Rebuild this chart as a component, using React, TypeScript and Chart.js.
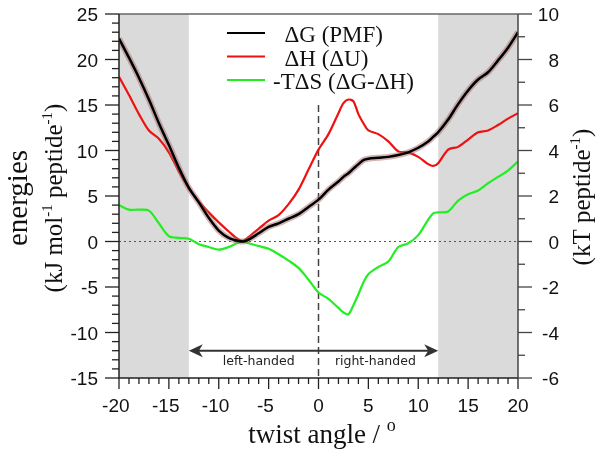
import React, { useEffect, useRef } from "react";
import { Chart, registerables } from "chart.js";

Chart.register(...registerables);

// twist angle (degrees)
const twistAngle = [-20, -19, -18, -17, -16, -15, -14, -13, -12, -11, -10, -9, -8, -7.5, -7, -6, -5, -4, -3, -2, -1, 0, 1, 2, 2.5, 3, 3.5, 4, 4.5, 5, 6, 7, 8, 9, 10, 11, 11.5, 12, 13, 14, 15, 16, 17, 18, 19, 20];
// ΔG (PMF), kJ/mol/peptide
const deltaG = [22.3, 20.2, 18.0, 15.6, 13.0, 10.6, 8.1, 5.9, 4.3, 2.6, 1.2, 0.4, 0.05, 0.0, 0.2, 0.9, 1.6, 2.0, 2.5, 3.0, 3.8, 4.6, 5.7, 6.6, 7.1, 7.5, 8.0, 8.5, 8.95, 9.1, 9.2, 9.3, 9.5, 9.8, 10.3, 11.0, 11.5, 12.0, 13.4, 15.1, 16.6, 17.8, 18.6, 19.9, 21.3, 23.0];
// ΔH (ΔU)
const deltaH = [18.1, 16.1, 14.0, 12.2, 11.3, 9.8, 7.7, 5.9, 4.4, 3.2, 2.1, 1.1, 0.2, 0.1, 0.5, 1.4, 2.3, 2.9, 4.1, 5.7, 7.9, 10.1, 11.8, 14.1, 15.2, 15.6, 15.4, 14.0, 13.0, 12.2, 11.8, 11.0, 9.9, 9.8, 9.3, 8.5, 8.3, 8.6, 10.1, 10.4, 11.2, 12.0, 12.2, 12.8, 13.5, 14.1];
// -TΔS (ΔG-ΔH)
const minusTdS = [4.0, 3.5, 3.5, 3.4, 2.0, 0.6, 0.4, 0.3, -0.3, -0.6, -0.9, -0.6, -0.1, 0.0, -0.2, -0.5, -0.8, -1.4, -2.1, -2.9, -4.2, -5.6, -6.3, -7.3, -7.8, -8.0, -7.0, -5.8, -4.5, -3.6, -2.8, -2.2, -0.6, -0.2, 0.7, 2.4, 3.1, 3.2, 3.3, 4.5, 5.2, 5.6, 6.4, 7.1, 7.8, 8.8];

const xTickLabels = [-20, -15, -10, -5, 0, 5, 10, 15, 20];
const yLeftTickLabels = [-15, -10, -5, 0, 5, 10, 15, 20, 25];
const yRightTickLabels = [-6, -4, -2, 0, 2, 4, 6, 8, 10];
const KT_TO_KJ = 2.5;
const shadedRegions = [[-20, -13], [12, 20]];
const arrowSpan = [-13, 12];
const arrowLevel = -12;
const handLabels = ["left-handed", "right-handed"];
const handLabelX = [-6, 5.7];
const legendLabels = ["  \u0394G (PMF)", "  \u0394H (\u0394U)", "-T\u0394S (\u0394G-\u0394H)"];
const legendColors = ["#000000", "#ee1111", "#22ee22"];

const SERIF = "'Liberation Serif', 'Times New Roman', serif";
const SANS = "'Liberation Sans', Arial, sans-serif";

type Seg = { t: string; sup?: boolean };

function drawSegs(ctx: CanvasRenderingContext2D, segs: Seg[], size: number, supSize: number, supRise: number) {
  const fonts = segs.map((s) => `${s.sup ? supSize : size}px ${SERIF}`);
  let total = 0;
  const widths = segs.map((s, i) => {
    ctx.font = fonts[i];
    const w = ctx.measureText(s.t).width;
    total += w;
    return w;
  });
  let x = -total / 2;
  ctx.textAlign = "left";
  ctx.textBaseline = "alphabetic";
  segs.forEach((s, i) => {
    ctx.font = fonts[i];
    ctx.fillText(s.t, x, s.sup ? -supRise : 0);
    x += widths[i];
  });
}

const decorPlugin = {
  id: "decor",
  beforeDatasetsDraw(chart: any) {
    const { ctx, chartArea: ca, scales } = chart;
    const x = scales.x;
    const y = scales.y;
    ctx.save();
    ctx.fillStyle = "#dadada";
    for (const [a, b] of shadedRegions) {
      const x1 = x.getPixelForValue(a);
      const x2 = x.getPixelForValue(b);
      ctx.fillRect(x1, ca.top, x2 - x1, ca.bottom - ca.top);
    }
    const y0 = y.getPixelForValue(0);
    ctx.strokeStyle = "#555";
    ctx.lineWidth = 1;
    ctx.setLineDash([2, 3]);
    ctx.beginPath();
    ctx.moveTo(ca.left, y0);
    ctx.lineTo(ca.right, y0);
    ctx.stroke();
    const x0 = x.getPixelForValue(0);
    ctx.setLineDash([7, 4]);
    ctx.lineWidth = 1.5;
    ctx.strokeStyle = "#444";
    ctx.beginPath();
    ctx.moveTo(x0, y.getPixelForValue(15));
    ctx.lineTo(x0, ca.bottom);
    ctx.stroke();
    ctx.restore();
  },
  afterDatasetsDraw(chart: any) {
    const { ctx, chartArea: ca, scales } = chart;
    const x = scales.x;
    const y = scales.y;
    ctx.save();

    // arrow
    const ay = y.getPixelForValue(arrowLevel);
    const ax1 = x.getPixelForValue(arrowSpan[0]);
    const ax2 = x.getPixelForValue(arrowSpan[1]);
    ctx.strokeStyle = "#333";
    ctx.fillStyle = "#333";
    ctx.lineWidth = 2;
    ctx.beginPath();
    ctx.moveTo(ax1 + 8, ay);
    ctx.lineTo(ax2 - 8, ay);
    ctx.stroke();
    const head = (tip: number, dir: number) => {
      ctx.beginPath();
      ctx.moveTo(tip, ay);
      ctx.lineTo(tip + dir * 14, ay - 6.5);
      ctx.lineTo(tip + dir * 10, ay);
      ctx.lineTo(tip + dir * 14, ay + 6.5);
      ctx.closePath();
      ctx.fill();
    };
    head(ax1, 1);
    head(ax2, -1);
    ctx.fillStyle = "#222";
    ctx.font = `12.5px 'DejaVu Sans', sans-serif`;
    ctx.textAlign = "center";
    ctx.textBaseline = "alphabetic";
    handLabels.forEach((t, i) => ctx.fillText(t, x.getPixelForValue(handLabelX[i]), ay + 14));

    // frame
    ctx.lineWidth = 1.5;
    ctx.strokeStyle = "#666";
    ctx.beginPath();
    ctx.moveTo(ca.left, ca.top);
    ctx.lineTo(ca.right, ca.top);
    ctx.stroke();
    ctx.strokeStyle = "#222";
    ctx.beginPath();
    ctx.moveTo(ca.left, ca.top);
    ctx.lineTo(ca.left, ca.bottom);
    ctx.lineTo(ca.right, ca.bottom);
    ctx.stroke();
    ctx.strokeStyle = "#444";
    ctx.beginPath();
    ctx.moveTo(ca.right, ca.top);
    ctx.lineTo(ca.right, ca.bottom);
    ctx.stroke();

    // left ticks
    ctx.strokeStyle = "#222";
    ctx.lineWidth = 1.3;
    for (let v = -15; v <= 25; v++) {
      const py = y.getPixelForValue(v);
      const len = v % 5 === 0 ? 14 : 7;
      ctx.beginPath();
      ctx.moveTo(ca.left - len, py);
      ctx.lineTo(ca.left, py);
      ctx.stroke();
    }
    // bottom ticks
    for (let v = -20; v <= 20; v++) {
      const px = x.getPixelForValue(v);
      const len = v % 5 === 0 ? 11 : 6;
      ctx.beginPath();
      ctx.moveTo(px, ca.bottom);
      ctx.lineTo(px, ca.bottom + len);
      ctx.stroke();
    }
    // right ticks (kT)
    ctx.strokeStyle = "#444";
    for (let v = -6; v <= 10; v++) {
      const py = y.getPixelForValue(v * KT_TO_KJ);
      const len = v % 2 === 0 ? 14 : 7;
      ctx.beginPath();
      ctx.moveTo(ca.right, py);
      ctx.lineTo(ca.right + len, py);
      ctx.stroke();
    }

    // tick labels
    ctx.fillStyle = "#111";
    ctx.font = `19px ${SANS}`;
    ctx.textBaseline = "alphabetic";
    ctx.textAlign = "right";
    yLeftTickLabels.forEach((v) => ctx.fillText(String(v), ca.left - 21, y.getPixelForValue(v) + 7));
    yRightTickLabels.forEach((v) => ctx.fillText(String(v), ca.right + 41, y.getPixelForValue(v * KT_TO_KJ) + 7));
    ctx.textAlign = "center";
    const minusW = ctx.measureText("-").width;
    xTickLabels.forEach((v) => {
      const px = x.getPixelForValue(v) - (v < 0 ? minusW / 2 : 0);
      ctx.fillText(String(v), px, ca.bottom + 34);
    });

    // legend
    legendLabels.forEach((t, i) => {
      const ly = 33 + i * 23.5;
      ctx.strokeStyle = legendColors[i];
      ctx.lineWidth = 2;
      ctx.beginPath();
      ctx.moveTo(227, ly);
      ctx.lineTo(265, ly);
      ctx.stroke();
      ctx.fillStyle = "#111";
      ctx.font = `23px ${SERIF}`;
      ctx.textAlign = "left";
      ctx.fillText(t, 273, ly + 9);
    });

    // axis titles
    ctx.fillStyle = "#111";
    ctx.save();
    ctx.translate(27, 198);
    ctx.rotate(-Math.PI / 2);
    ctx.font = `29px ${SERIF}`;
    ctx.textAlign = "center";
    ctx.fillText("energies", 0, 0);
    ctx.restore();

    ctx.save();
    ctx.translate(62, 198);
    ctx.rotate(-Math.PI / 2);
    drawSegs(ctx, [{ t: "(kJ mol" }, { t: "-1", sup: true }, { t: " peptide" }, { t: "-1", sup: true }, { t: ")" }], 25, 15, 10);
    ctx.restore();

    ctx.save();
    ctx.translate(590, 197);
    ctx.rotate(-Math.PI / 2);
    drawSegs(ctx, [{ t: "(kT peptide" }, { t: "-1", sup: true }, { t: ")" }], 25, 15, 10);
    ctx.restore();

    ctx.save();
    ctx.translate(322, 443);
    drawSegs(ctx, [{ t: "twist angle / " }, { t: "o", sup: true }], 27, 18, 12);
    ctx.restore();

    ctx.restore();
  },
};

export default function App() {
  const canvasRef = useRef<HTMLCanvasElement | null>(null);

  useEffect(() => {
    if (!canvasRef.current) return;
    const pts = (arr: number[]) => twistAngle.map((a, i) => ({ x: a, y: arr[i] }));
    const chart = new Chart(canvasRef.current, {
      type: "line",
      data: {
        datasets: [
          { label: "\u0394G (PMF)", data: pts(deltaG), borderColor: "#000000", borderWidth: 2.5, pointRadius: 0, tension: 0.3 },
          { label: "\u0394G band", data: pts(deltaG), borderColor: "rgba(165,105,105,0.5)", borderWidth: 6, pointRadius: 0, tension: 0.3 },
          { label: "\u0394H (\u0394U)", data: pts(deltaH), borderColor: "#ee1111", borderWidth: 2.2, pointRadius: 0, tension: 0.3 },
          { label: "-T\u0394S (\u0394G-\u0394H)", data: pts(minusTdS), borderColor: "#22ee22", borderWidth: 2.2, pointRadius: 0, tension: 0.3 },
        ],
      },
      options: {
        responsive: false,
        animation: false,
        layout: { padding: { left: 119, right: 85, top: 14, bottom: 84 } },
        plugins: { legend: { display: false }, tooltip: { enabled: false } },
        scales: {
          x: { type: "linear", min: -20, max: 20, display: false },
          y: { type: "linear", min: -15, max: 25, display: false },
        },
      },
      plugins: [decorPlugin],
    });
    return () => chart.destroy();
  }, []);

  return (
    <div style={{ position: "fixed", left: 0, top: 0, width: 603, height: 462, background: "#fff" }}>
      <canvas ref={canvasRef} width={603} height={462} />
    </div>
  );
}
